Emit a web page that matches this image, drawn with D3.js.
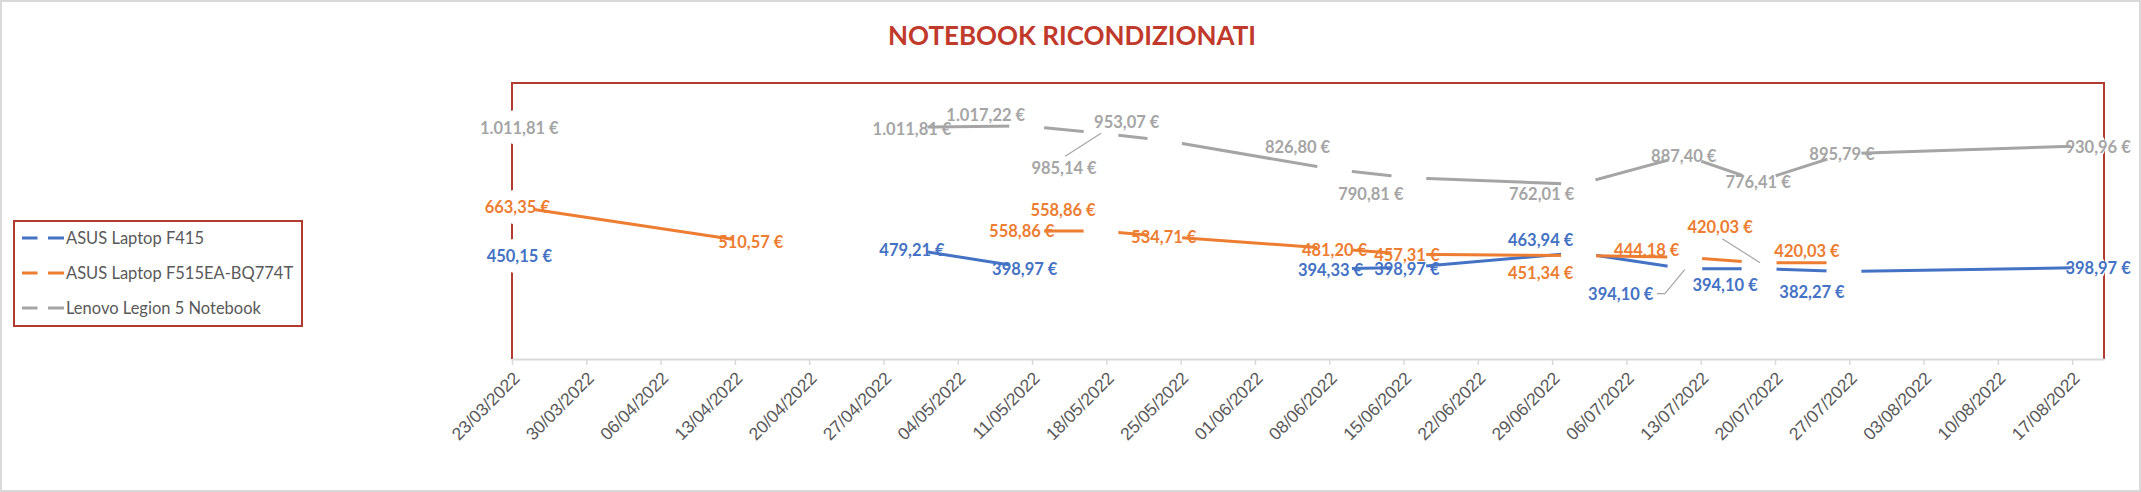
<!DOCTYPE html>
<html>
<head>
<meta charset="utf-8">
<script src="https://cdn.jsdelivr.net/npm/d3@7"></script>
<style>
  html, body { margin: 0; padding: 0; background: #fff; }
  svg { display: block; font-family: Lato, "Open Sans", sans-serif; }
  .tick text { fill: #595959; font-size: 17.5px; }
  .lbl { font-weight: bold; font-size: 16.5px; }
  .legend text { fill: #595959; font-size: 16.5px; }
</style>
</head>
<body>
<svg id="chart" width="2141" height="492"></svg>
<script>
// rows of the sheet (one per survey date), empty cells shown as gaps
const dates = ['2022-03-23', '2022-04-14', '2022-04-29', '2022-05-10', '2022-05-17', '2022-05-23',
  '2022-06-08', '2022-06-15', '2022-07-01', '2022-07-11', '2022-07-18', '2022-07-26', '2022-08-18'];
const asusF415 = [450.15, null, 479.21, 398.97, null, null, 394.33, 398.97, 463.94, 394.10, 394.10, 382.27, 398.97];
const asusF515 = [663.35, 510.57, null, 558.86, 558.86, 534.71, 481.20, 457.31, 451.34, 444.18, 420.03, 420.03, null];
const lenovo = [1011.81, null, 1011.81, 1017.22, 985.14, 953.07, 826.80, 790.81, 762.01, 887.40, 776.41, 895.79, 930.96];

const tickDates = ['2022-03-23', '2022-03-30', '2022-04-06', '2022-04-13', '2022-04-20', '2022-04-27',
  '2022-05-04', '2022-05-11', '2022-05-18', '2022-05-25', '2022-06-01', '2022-06-08', '2022-06-15',
  '2022-06-22', '2022-06-29', '2022-07-06', '2022-07-13', '2022-07-20', '2022-07-27', '2022-08-03',
  '2022-08-10', '2022-08-17'];
const axisEnd = '2022-08-20';
const yMax = 1200;

// where the labels were dragged to (px from the point), null = no label
const nudgeF415 = [[2, 0], null, [2, 1], [-2, 1], null, null, [-4, 1], [-2, 1], [-38, -13], [-64, 25], [-34, 16], [-32, 21], [10, 0]];
const nudgeF515 = [[0, 0], [0, 0], null, [-5, 0], [-38, -21], [-1, 1], [0, 1], [-2, 1], [-38, 17], [-38, -7], [-39, -36], [-37, -12], null];
const nudgeLenovo = [[2, 1], null, [2, 2], [-41, -11], [-37, 35], [-38, -19], [-37, -22], [-38, 16], [-37, 10], [-1, 0], [-1, 1], [-2, 0], [10, 1]];

const series = [
  { name: 'ASUS Laptop F415', values: asusF415, color: '#4472C4', nudge: nudgeF415, leader: [9] },
  { name: 'ASUS Laptop F515EA-BQ774T', values: asusF515, color: '#ED7D31', nudge: nudgeF515, leader: [10] },
  { name: 'Lenovo Legion 5 Notebook', values: lenovo, color: '#A5A5A5', nudge: nudgeLenovo, leader: [4] }
];

const frameRed = '#b23a2e',
  plot = { left: 512, right: 2104, top: 83, bottom: 359 };

const parse = d3.utcParse('%Y-%m-%d'),
  fmtTick = d3.utcFormat('%d/%m/%Y'),
  euro = d3.formatLocale({ decimal: ',', thousands: '.', grouping: [3], currency: ['', ' €'] }).format('$,.2f');

const x = d3.scaleUtc()
  .domain([parse(dates[0]), parse(axisEnd)])
  .range([plot.left, plot.right]);

const y = d3.scaleLinear()
  .domain([0, yMax])
  .range([plot.bottom, plot.top + 1]);

// date axis "between tick marks": a point sits in the middle of its day
const px = d => x(d3.utcHour.offset(parse(d), 12));

const svg = d3.select('#chart');

svg.append('rect')
  .attr('x', 1).attr('y', 1)
  .attr('width', 2139).attr('height', 490)
  .attr('fill', '#fff')
  .attr('stroke', '#d9d9d9')
  .attr('stroke-width', 2);

svg.append('text')
  .attr('x', 1072)
  .attr('y', 45)
  .attr('text-anchor', 'middle')
  .attr('fill', '#c0392b')
  .style('font-size', '26px')
  .style('font-weight', 'bold')
  .text('NOTEBOOK RICONDIZIONATI');

// plot area outline
svg.append('path')
  .attr('d', `M${plot.left},${plot.bottom}V${plot.top}H${plot.right}V${plot.bottom}`)
  .attr('fill', 'none')
  .attr('stroke', frameRed)
  .attr('stroke-width', 2);

let axis = svg.append('g')
  .attr('transform', `translate(0,${plot.bottom})`)
  .call(d3.axisBottom(x)
    .tickValues(tickDates.map(parse))
    .tickFormat(fmtTick)
    .tickSize(6)
    .tickSizeOuter(0));

axis.select('.domain').attr('stroke', '#d9d9d9').attr('stroke-width', 2);
axis.selectAll('.tick line').attr('stroke', '#d9d9d9').attr('stroke-width', 1.5);
axis.selectAll('.tick text')
  .attr('text-anchor', 'end')
  .attr('dy', '0.35em')
  .attr('y', 0)
  .attr('transform', 'translate(4,16) rotate(-45)');

const line = d3.line()
  .defined(d => d.v != null)
  .x(d => d.x)
  .y(d => d.y);

series.forEach(s => {
  s.points = dates.map((d, i) => ({ x: px(d), y: s.values[i] == null ? 0 : y(s.values[i]), v: s.values[i], i: i }));
});

let lines = svg.append('g');
series.forEach(s => {
  lines.append('path')
    .datum(s.points)
    .attr('fill', 'none')
    .attr('stroke', s.color)
    .attr('stroke-width', 3)
    .attr('d', line);
});

// white markers, they open the line around every point
let markers = svg.append('g');
series.forEach(s => {
  markers.selectAll(null)
    .data(s.points.filter(p => p.v != null))
    .join('circle')
    .attr('cx', p => p.x)
    .attr('cy', p => p.y)
    .attr('r', 17.5)
    .attr('fill', '#fff');
});

let labels = svg.append('g'),
  leaders = svg.append('g');

series.forEach(s => {
  s.points.filter(p => p.v != null && s.nudge[p.i]).forEach(p => {
    let [dx, dy] = s.nudge[p.i];
    let t = labels.append('text')
      .attr('class', 'lbl')
      .attr('x', p.x + dx)
      .attr('y', p.y + dy)
      .attr('dy', '0.36em')
      .attr('text-anchor', 'middle')
      .attr('fill', s.color)
      .text(euro(p.v));

    if (s.leader.indexOf(p.i) < 0) return;
    let b = t.node().getBBox();
    let outX = p.x > b.x + b.width ? p.x - (b.x + b.width) : 0,
      outY = p.y < b.y ? b.y - p.y : (p.y > b.y + b.height ? p.y - (b.y + b.height) : 0);
    let pts;
    if (outX > outY) {
      let sx = b.x + b.width + 3, sy = b.y + b.height / 2;
      pts = [[sx, sy], [sx + 8, sy], [p.x, p.y + 1]];
    } else if (p.y < b.y) {
      pts = [[b.x + b.width / 2 + 1, b.y - 2], [p.x, p.y]];
    } else {
      pts = [[b.x + b.width / 2 + 2, b.y + b.height + 2], [p.x + 1, p.y]];
    }
    leaders.append('path')
      .attr('d', d3.line()(pts))
      .attr('fill', 'none')
      .attr('stroke', '#a6a6a6')
      .attr('stroke-width', 1.2);
  });
});

// legend
let legend = svg.append('g').attr('class', 'legend');
legend.append('rect')
  .attr('x', 14).attr('y', 221)
  .attr('width', 288).attr('height', 105)
  .attr('fill', '#fff')
  .attr('stroke', frameRed)
  .attr('stroke-width', 2);

let item = legend.selectAll('g.item')
  .data(series)
  .join('g')
  .attr('class', 'item')
  .attr('transform', (d, i) => `translate(0,${238 + i * 35})`);

item.append('path')
  .attr('d', 'M22,0H37.5M48,0H64')
  .attr('stroke', d => d.color)
  .attr('stroke-width', 3);

item.append('text')
  .attr('x', 66)
  .attr('dy', '0.35em')
  .text(d => d.name);
</script>
</body>
</html>
